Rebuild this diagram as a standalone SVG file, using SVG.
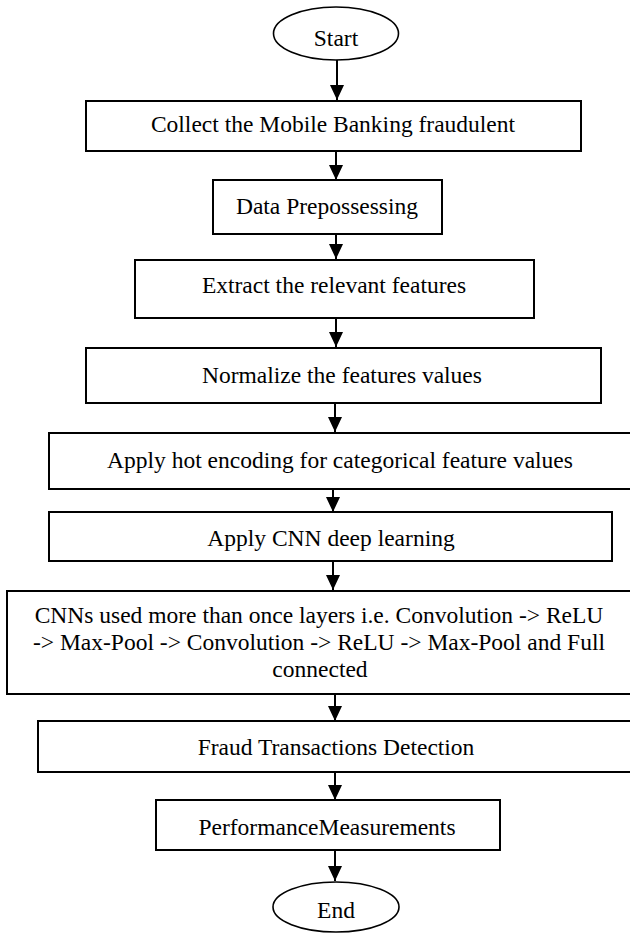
<svg xmlns="http://www.w3.org/2000/svg" width="630" height="933" viewBox="0 0 630 933">
<defs>
<style>
.box{fill:#fff;stroke:#000;stroke-width:2}
.term{fill:#fff;stroke:#000;stroke-width:1.6}
.t{font-family:"Liberation Serif","Times New Roman",serif;font-size:23.5px;fill:#000;text-anchor:middle}
.c{stroke:#000;stroke-width:2;fill:none;marker-end:url(#ah)}
</style>
<marker id="ah" markerUnits="userSpaceOnUse" markerWidth="15" markerHeight="14" refX="15" refY="7" orient="auto">
<path d="M0,0 L15,7 L0,14 z" fill="#000"/>
</marker>
</defs>
<rect width="630" height="933" fill="#fff"/>
<g id="connectors">
<line class="c" x1="337" y1="60" x2="337" y2="100"/>
<line class="c" x1="336" y1="151" x2="336" y2="180"/>
<line class="c" x1="336" y1="234" x2="336" y2="259"/>
<line class="c" x1="336" y1="318" x2="336" y2="347"/>
<line class="c" x1="335" y1="403" x2="335" y2="432"/>
<line class="c" x1="333" y1="489" x2="333" y2="512"/>
<line class="c" x1="333" y1="561" x2="333" y2="590"/>
<line class="c" x1="335" y1="694" x2="335" y2="721"/>
<line class="c" x1="335" y1="772" x2="335" y2="800"/>
<line class="c" x1="335" y1="850" x2="335" y2="881"/>
</g>
<g id="start">
<ellipse class="term" cx="336" cy="33.5" rx="62.5" ry="26.5"/>
<text class="t" x="336" y="46">Start</text>
</g>
<g id="collect">
<rect class="box" x="86" y="101" width="495" height="50"/>
<text class="t" x="333" y="132">Collect the Mobile Banking fraudulent</text>
</g>
<g id="preprocess">
<rect class="box" x="213" y="180" width="229" height="54"/>
<text class="t" x="327" y="214">Data Prepossessing</text>
</g>
<g id="extract">
<rect class="box" x="135" y="260" width="399" height="58"/>
<text class="t" x="334" y="293">Extract the relevant features</text>
</g>
<g id="normalize">
<rect class="box" x="86" y="348" width="515" height="55"/>
<text class="t" x="342" y="383">Normalize the features values</text>
</g>
<g id="onehot">
<rect class="box" x="49" y="433" width="600" height="56"/>
<text class="t" x="340" y="468">Apply hot encoding for categorical feature values</text>
</g>
<g id="cnn">
<rect class="box" x="49" y="512" width="563" height="49"/>
<text class="t" x="331" y="546">Apply CNN deep learning</text>
</g>
<g id="layers">
<rect class="box" x="7" y="591" width="640" height="103"/>
<text class="t" x="319" y="623">CNNs used more than once layers i.e. Convolution -&gt; ReLU</text>
<text class="t" x="319" y="650">-&gt; Max-Pool -&gt; Convolution -&gt; ReLU -&gt; Max-Pool and Full</text>
<text class="t" x="320" y="677">connected</text>
</g>
<g id="fraud">
<rect class="box" x="38" y="721" width="610" height="51"/>
<text class="t" x="336" y="755">Fraud Transactions Detection</text>
</g>
<g id="perf">
<rect class="box" x="156" y="800" width="344" height="50"/>
<text class="t" x="327" y="835">PerformanceMeasurements</text>
</g>
<g id="end">
<ellipse class="term" cx="336" cy="907" rx="63" ry="25"/>
<text class="t" x="336" y="918">End</text>
</g>
</svg>
